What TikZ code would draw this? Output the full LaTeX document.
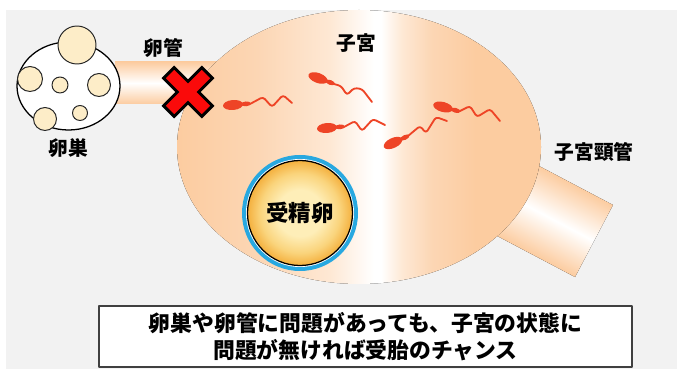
\documentclass[tikz,border=0pt]{standalone}
\usepackage{fontspec}
\setmainfont{Noto Sans CJK JP}

\definecolor{bg}{RGB}{242,242,242}
\definecolor{peach}{RGB}{252,204,160}
\definecolor{peachmd}{RGB}{252,214,180}
\definecolor{peachlt}{RGB}{254,232,212}
\definecolor{cream}{RGB}{253,237,200}
\definecolor{spermred}{RGB}{238,68,38}
\definecolor{eggin}{RGB}{254,238,184}
\definecolor{eggmid}{RGB}{250,212,124}
\definecolor{eggout}{RGB}{244,176,62}
\definecolor{ringblue}{RGB}{40,168,224}
\definecolor{xred}{RGB}{250,10,10}

% horizontal shading of the uterus, white band slightly right of centre
\pgfdeclarehorizontalshading{wombshade}{100bp}{color(0bp)=(peach); color(25bp)=(peach);
  color(36bp)=(peachmd); color(46bp)=(peachlt); color(52bp)=(white); color(53bp)=(white);
  color(56bp)=(peachlt); color(60bp)=(peachmd); color(66bp)=(peach); color(75bp)=(peach);
  color(100bp)=(peach)}
% pale centre of the egg
\pgfdeclareradialshading{eggshade}{\pgfpoint{0bp}{0bp}}{color(0bp)=(eggin);
  color(11bp)=(eggin); color(19bp)=(eggmid); color(25bp)=(eggout); color(50bp)=(eggout)}

\tikzset{
  follicle/.style={draw=black!85,fill=cream,line width=0.7pt},
  head/.style={fill=spermred},
  tail/.style={draw=spermred,line width=1.3pt,rounded corners=2pt,line cap=round},
  tubeshade/.style={top color=peach,bottom color=peach,middle color=white},
  label/.style={font=\bfseries\fontsize{14}{16}\selectfont,inner sep=0pt},
}

\begin{document}
\begin{tikzpicture}[x=0.025cm,y=0.025cm,line join=round]
  % background
  \fill[white] (0,0) rectangle (678,369);
  \fill[bg] (6,0) rectangle (677,359);

  % oviduct
  \fill[tubeshade] (115,265) rectangle (235,307);

  % cervix
  \begin{scope}[transform canvas={shift={(594,128)},rotate=-27.8}]
    \fill[tubeshade] (-115,-40.7) rectangle (0,40.7);
  \end{scope}

  % uterus
  \fill[shading=wombshade] (359,222) ellipse (182 and 137);

  % ovary with follicles
  \draw[fill=white,line width=0.9pt] (68.5,283) ellipse (51.5 and 44);
  \draw[follicle] (77,324) circle (19);
  \draw[follicle] (30,290) circle (12.5);
  \draw[follicle] (60,284) circle (8);
  \draw[follicle] (99,284) circle (11.5);
  \draw[follicle] (45,250) circle (11.5);
  \draw[follicle] (80,256) circle (7.5);

  % blocked oviduct
  \begin{scope}[shift={(188,277)},rotate=45]
    \draw[fill=xred,line width=2.1pt,line join=miter]
      (27,7.5) -- (7.5,7.5) -- (7.5,27) -- (-7.5,27) -- (-7.5,7.5) -- (-27,7.5)
      -- (-27,-7.5) -- (-7.5,-7.5) -- (-7.5,-27) -- (7.5,-27) -- (7.5,-7.5)
      -- (27,-7.5) -- cycle;
  \end{scope}

  % sperm
  \begin{scope}[shift={(233,264)},rotate=5]
    \fill[head] (0,0) ellipse (10 and 5);
    \fill[head] (13,0) ellipse (5 and 2.4);
  \end{scope}
  \draw[tail] (250,265) -- (263,272) -- (272,262) -- (283,274) -- (292,266);

  \begin{scope}[shift={(318,291)},rotate=-20]
    \fill[head] (0,0) ellipse (10 and 5);
    \fill[head] (13,0) ellipse (5 and 2.4);
  \end{scope}
  \draw[tail] (334,285) -- (341,283) -- (347,274) -- (354,281) -- (362,280) -- (372,267);

  \begin{scope}[shift={(327,241)},rotate=5]
    \fill[head] (0,0) ellipse (10 and 5);
    \fill[head] (13,0) ellipse (5 and 2.4);
  \end{scope}
  \draw[tail] (344,242) -- (355,248) -- (362,238) -- (373,250) -- (385,244);

  \begin{scope}[shift={(393,226)},rotate=25]
    \fill[head] (0,0) ellipse (10 and 5);
    \fill[head] (13,0) ellipse (5 and 2.4);
  \end{scope}
  \draw[tail] (408,233) -- (420,243) -- (426,236) -- (436,252) -- (447,248);

  \begin{scope}[shift={(443,262)},rotate=-15]
    \fill[head] (0,0) ellipse (10 and 5);
    \fill[head] (13,0) ellipse (5 and 2.4);
  \end{scope}
  \draw[tail] (460,258) -- (470,263) -- (477,252) -- (490,260) -- (500,248);

  % fertilised egg
  \fill[ringblue] (300,156) circle (58);
  \fill[white] (300,156) circle (54);
  \draw[line width=0.9pt,shading=eggshade] (300,156) circle (52.5);
  \node[label,font=\bfseries\fontsize{16}{18}\selectfont] (egg) at (300,156) {受精卵};

  % labels
  \node[label] (tubelbl) at (163,321) {卵管};
  \node[label] (ovarylbl) at (68,221) {卵巣};
  \node[label] (uteruslbl) at (356,326) {子宮};
  \node[label] (cervixlbl) at (594,217) {子宮頸管};

  % note
  \node[draw=black!75,fill=white,line width=1pt,minimum width=13.33cm,minimum height=1.52cm,
    align=center,font=\bfseries\fontsize{15.5}{19.2}\selectfont] (note) at (365.5,32.5)
    {卵巣や卵管に問題があっても、子宮の状態に\\問題が無ければ受胎のチャンス};

  \useasboundingbox (0,0) rectangle (678,369);
\end{tikzpicture}
\end{document}
